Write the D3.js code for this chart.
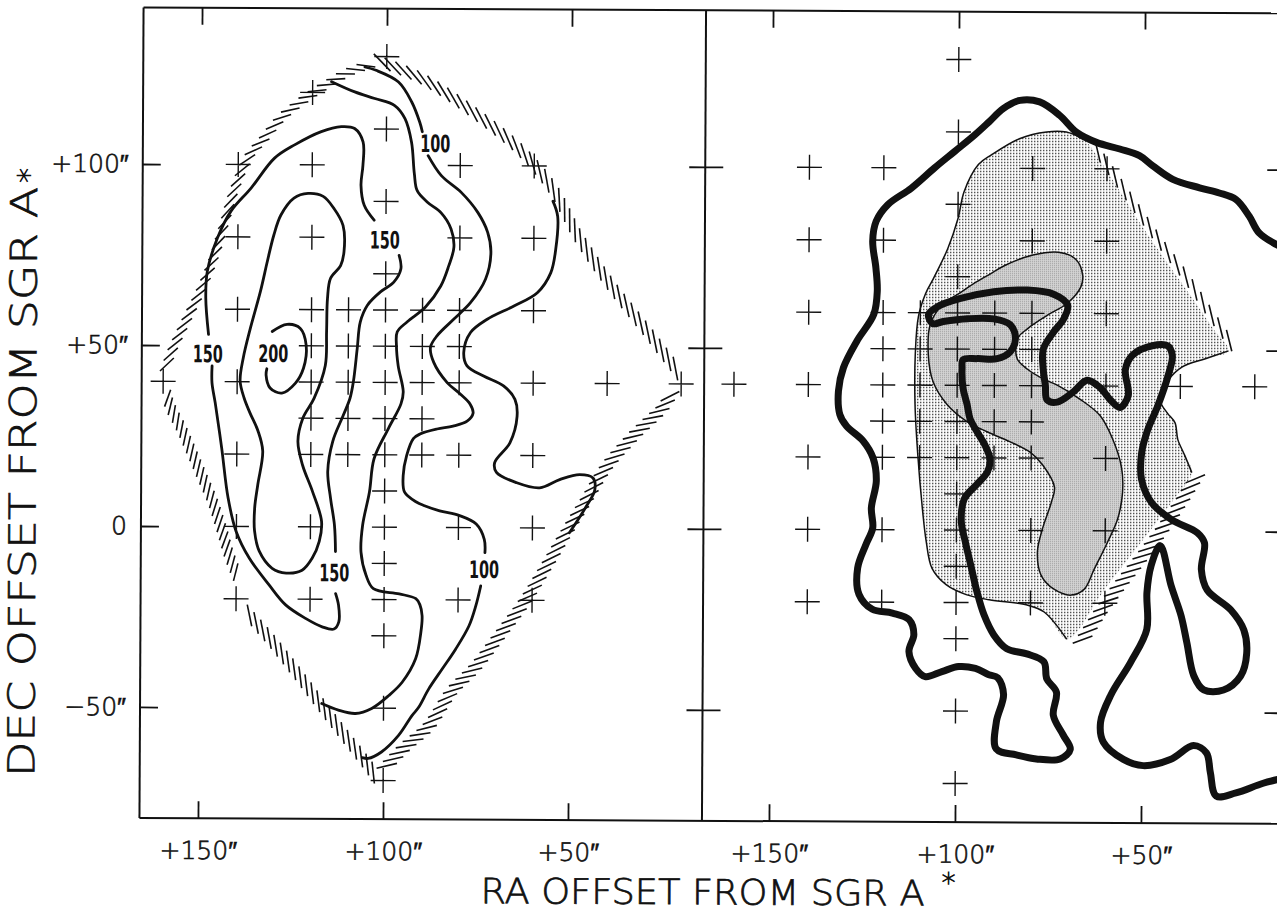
<!DOCTYPE html>
<html>
<head>
<meta charset="utf-8">
<script src="https://cdn.jsdelivr.net/npm/d3@7"></script>
<style>
  html, body { margin: 0; padding: 0; background: #fff; }
  svg { display: block; }
</style>
</head>
<body>
<svg id="chart" width="1277" height="912"></svg>
<script>
// ---------------------------------------------------------------
// Offsets from Sgr A* in arcseconds: [RA offset, Dec offset]
// ---------------------------------------------------------------
const raTicks = [150, 100, 50];
const decTicks = [100, 50, 0, -50];

// observed positions (both maps)
const gridPoints = [
  [100,130],[100,110],[140,100],[120,100],[80,100],[60,100],[100,90],
  [140,80],[120,80],[80,80],[60,80],[100,70],
  [140,60],[120,60],[110,60],[100,60],[90,60],[80,60],[60,60],
  [120,50],[110,50],[100,50],[90,50],[80,50],
  [160,40],[140,40],[120,40],[110,40],[100,40],[90,40],[80,40],[60,40],[40,40],[20,40],
  [120,30],[110,30],[100,30],[90,30],
  [140,20],[120,20],[110,20],[100,20],[90,20],[80,20],[60,20],
  [100,10],
  [140,0],[120,0],[100,0],[80,0],[60,0],
  [100,-10],
  [140,-20],[120,-20],[100,-20],[80,-20],[60,-20],
  [100,-30],[100,-50],[100,-70]
];
const leftOnlyPoints = [[120,120]];
const rightOnlyPoints = [[80,30]];

// --- left map: contour levels ---
const contour200 = [[130.6,53.9],[126.6,55.9],[123.0,54.8],[121.4,50.2],[122.1,43.8],[124.3,39.6],
  [127.9,36.9],[131.1,38.3],[132.2,41.9],[132.0,43.6]];

const contour150Inner = [[139.2,40.2],[138.4,46.5],[136.5,54.8],[133.8,65.1],[132.0,73.3],[130.3,80.5],
  [128.4,86.1],[124.9,90.8],[121.1,92.1],[117.0,91.3],[114.1,88.0],[111.6,83.3],[111.3,76.1],[112.2,72.2],
  [114.9,68.7],[115.7,63.1],[115.9,54.0],[116.2,44.6],[119.2,35.5],[122.2,30.0],[123.5,23.6],[122.2,17.0],
  [119.5,9.8],[117.0,1.5],[117.6,-4.0],[119.5,-8.7],[122.2,-12.0],[126.5,-12.8],[130.3,-11.5],[133.8,-6.8],
  [135.1,-1.2],[135.1,5.1],[134.3,11.5],[133.0,20.9],[134.3,26.4],[136.5,31.4],[138.1,35.5]];

const contour150East = [[96.4,75.1],[95.9,71.4],[97.8,67.7],[101.4,65.0],[104.9,61.3],[106.8,56.7],
  [107.6,49.3],[108.6,40.1],[109.5,35.5],[111.3,30.8],[114.1,23.6],[115.4,15.3],[114.6,7.9],[113.5,0.4],[113.2,-6.8]];
const contour150South = [[113.1,-18.4],[112.3,-21.6],[112.2,-26.2],[113.5,-28.2],[116.7,-27.6],[121.2,-25.3],
  [126.6,-21.6],[131.1,-16.1],[136.5,-8.7],[140.1,-1.3],[142.3,7.9],[144.1,21.7],[145.9,34.1],[146.8,39.6],[146.8,44.3]];
const contour150North = [[147.8,53.0],[148.6,63.1],[148.2,70.5],[145.5,79.7],[141.9,87.1],[136.5,93.5],
  [130.2,101.8],[124.8,105.5],[117.6,109.2],[112.2,110.6],[108.6,110.1],[106.3,106.4],[106.3,100.0],
  [106.8,94.4],[105.9,88.9],[103.2,84.8]];

const contour100North = [[105.9,127.1],[102.9,126.2],[96.8,123.0],[93.2,117.5],[91.0,111.9],[90.3,109.3]];
const contour100Middle = [[88.7,102.7],[85.1,97.2],[79.7,92.6],[75.2,87.1],[72.5,81.6],[71.6,76.0],[73.0,68.7],
  [77.0,62.2],[81.5,57.6],[86.0,53.0],[87.8,49.8],[86.9,45.6],[83.3,40.1],[79.7,36.9],[77.0,34.1],[76.2,31.6],
  [77.8,29.4],[81.6,28.0],[85.9,27.2],[90.5,25.8],[92.3,24.5],[94.1,19.8],[95.0,14.3],[94.6,9.7],[91.4,7.0],
  [89.2,6.0],[85.1,4.6],[79.7,3.3],[75.2,1.0],[73.0,-3.2],[72.8,-6.9]];
const contour100South = [[73.9,-16.1],[75.2,-21.6],[77.0,-27.1],[80.6,-33.6],[84.2,-39.1],[87.8,-44.6],
  [90.5,-49.7],[92.3,-52.0],[95.9,-57.5],[100.5,-62.1],[104.1,-63.9],[105.7,-63.7]];
const contourWest = [[114.9,123.0],[108.6,120.2],[103.2,118.4],[97.8,116.5],[95.0,112.9],[93.2,106.4],
  [92.4,97.7],[91.6,93.0],[88.9,89.9],[85.1,86.9],[82.4,82.5],[81.6,77.5],[83.0,72.2],[85.1,66.7],[89.2,60.9],
  [94.1,56.8],[96.8,54.0],[97.0,50.1],[96.5,44.6],[95.1,37.4],[95.7,34.1],[99.1,27.2],[102.9,18.9],[104.1,9.7],
  [105.9,0.5],[106.3,-6.9],[104.9,-13.3],[102.9,-17.0],[95.9,-18.4],[91.4,-19.7],[90.3,-21.4],[89.7,-24.4],
  [90.0,-28.9],[91.4,-36.3],[95.0,-42.8],[98.6,-46.5],[103.2,-50.1],[107.6,-51.5],[112.2,-50.6],[116.7,-48.8]];
const contourEast = [[54.9,90.3],[53.6,86.1],[54.1,76.9],[55.4,70.5],[59.0,65.0],[65.3,61.3],[72.5,57.6],
  [77.0,53.9],[78.8,48.4],[77.9,44.7],[73.4,41.9],[68.0,39.2],[64.9,35.5],[64.3,30.8],[66.2,23.5],[70.3,18.0],
  [69.8,15.3],[64.4,12.5],[58.1,11.1],[52.7,13.4],[47.3,14.8],[43.7,13.9],[43.2,10.6],[45.5,6.0],[50.0,-1.3]];

const levelLabels = [
  { text: "200", ra: 130.3, dec: 47.7 },
  { text: "150", ra: 148.0, dec: 47.5 },
  { text: "150", ra: 100.3, dec: 79.2 },
  { text: "150", ra: 113.5, dec: -12.8 },
  { text: "100", ra: 86.8, dec: 105.9 },
  { text: "100", ra: 73.0, dec: -11.7 }
];

// edge of mapped area (hatched side faces outwards)
const edgeNW = [[159.5,43.2],[157.6,48.5],[153.5,57.6],[150.0,65.1],[146.5,74.2],[143.8,83.3],[141.1,92.7],
  [137.3,101.8],[133.0,107.3],[128.4,112.9],[123.0,117.5],[115.7,122.5],[110.3,125.6],[104.1,128.0]];
const edgeNE = [[102.7,128.9],[90.5,123.9],[77.0,115.1],[63.5,104.0],[54.9,93.5],[47.8,80.3],[39.2,67.3],
  [28.9,54.0],[20.8,43.2]];
const edgeSE = [[22.4,37.7],[24.9,33.6],[33.0,25.3],[40.0,17.0],[45.4,7.9],[50.8,-1.2],[56.2,-10.6],[61.6,-19.7],
  [68.1,-28.9],[75.1,-38.3],[81.6,-45.4],[87.8,-54.8],[94.6,-61.2],[100.5,-67.5]];
const edgeS = [[101.9,-68.9],[104.9,-64.8],[111.3,-56.5],[117.6,-48.2],[123.8,-39.9],[130.3,-31.6],[136.5,-24.4]];
const edgeSW = [[139.7,-13.7],[141.9,-7.9],[144.1,-0.4],[146.5,7.0],[149.2,13.4],[151.9,19.8],[154.9,26.7],
  [158.1,33.3],[159.2,36.9]];

// --- right map ---
const outerRegion = [[91.1,103.7],[83.6,108.2],[76.3,110.1],[71.0,110.1],[66.4,108.2],[61.6,101.8],[56.7,94.1],
  [50.8,84.7],[44.1,74.7],[37.4,65.1],[31.4,56.2],[27.1,49.9],[33.3,47.7],[39.5,45.4],[43.3,41.6],[45.4,36.1],
  [43.5,32.7],[41.4,30.0],[40.6,25.3],[38.7,20.9],[36.8,16.2],[41.7,8.7],[47.3,1.0],[53.5,-7.3],[58.9,-14.5],
  [62.9,-20.6],[66.9,-27.2],[70.2,-30.0],[76.3,-22.5],[80.9,-20.6],[91.1,-19.2],[97.3,-17.8],[102.7,-15.1],
  [106.5,-10.6],[108.1,-3.2],[109.1,5.1],[110.5,20.9],[111.3,34.7],[111.3,48.5],[110.5,59.0],[108.6,65.3],
  [106.5,69.5],[102.7,77.8],[100.0,86.1],[98.4,93.5],[94.6,101.0]];
const innerRegion = [[107.3,56.8],[103.8,62.6],[100.0,65.1],[95.7,68.1],[91.1,70.9],[87.1,73.3],[79.8,76.1],
  [72.9,76.9],[68.3,75.0],[66.4,70.6],[66.9,67.3],[70.4,62.9],[75.8,59.5],[81.2,55.7],[83.9,52.9],[83.9,47.4],
  [81.2,44.6],[76.9,41.9],[73.1,40.2],[66.9,36.3],[61.6,31.9],[58.1,25.3],[55.7,17.5],[55.4,10.6],[56.7,3.2],
  [59.4,-3.2],[62.9,-10.6],[65.6,-16.2],[69.1,-17.8],[73.7,-16.2],[77.2,-12.3],[78.2,-5.9],[76.9,0.4],[74.5,7.9],
  [73.7,12.0],[76.9,18.1],[80.4,21.7],[85.8,24.5],[91.9,27.2],[97.3,30.0],[102.7,34.7],[106.5,41.0],[107.8,48.5]];
const outerEdgeNE = [[63.7,106.5],[57.8,97.7],[51.6,88.5],[45.2,79.2],[38.4,69.8],[32.0,60.1],[26.1,51.5]];
const outerEdgeSE = [[35.2,15.6],[39.8,7.9],[44.9,0.1],[50.8,-8.1],[56.2,-15.3],[60.5,-21.4],[64.3,-27.5],[66.4,-30.8]];

const boldContour = [[11.8,78.0],[19.0,82.5],[21.7,87.1],[25.3,91.7],[29.8,93.5],[35.1,94.9],[42.3,97.2],
  [47.7,100.9],[51.3,103.7],[56.6,105.5],[62.9,107.3],[68.3,110.1],[72.8,114.7],[78.2,118.4],[83.5,118.8],
  [88.0,116.5],[91.7,112.9],[95.6,109.2],[101.0,104.6],[106.4,100.0],[112.6,94.4],[118.9,89.8],[122.0,85.2],
  [122.9,79.7],[122.0,72.3],[121.6,65.9],[122.5,59.5],[127.0,52.1],[130.6,44.7],[131.9,38.3],[131.5,31.8],
  [129.7,28.6],[125.2,24.5],[122.5,19.8],[121.6,13.4],[122.9,6.0],[122.5,0.5],[124.3,-4.1],[126.5,-10.6],
  [126.1,-17.9],[122.5,-22.0],[117.1,-23.0],[112.6,-24.8],[111.3,-28.9],[112.6,-33.6],[110.8,-38.2],[108.2,-40.5],
  [103.7,-39.1],[99.2,-37.7],[94.7,-38.2],[91.1,-39.9],[88.7,-40.7],[87.1,-45.4],[89.0,-52.9],[89.0,-60.4],
  [83.6,-62.0],[78.2,-63.1],[71.8,-63.1],[69.1,-60.4],[71.0,-56.5],[73.7,-51.0],[72.9,-44.6],[75.5,-41.0],
  [76.3,-36.3],[80.9,-34.1],[86.3,-32.7],[89.8,-28.9],[92.5,-23.3],[94.4,-17.0],[96.0,-10.1],[97.6,-3.2],
  [98.7,2.4],[97.9,8.7],[94.6,12.6],[91.7,16.2],[91.1,19.8],[92.5,23.6],[94.6,27.2],[96.5,30.8],[97.3,34.7],
  [98.4,39.1],[98.7,44.6],[98.4,47.1],[94.6,47.4],[89.3,47.4],[85.8,49.3],[84.4,52.9],[85.8,56.8],[90.3,58.4],
  [97.3,58.4],[103.8,57.6],[106.7,57.0],[107.8,59.5],[105.4,61.7],[99.2,64.0],[90.3,65.9],[81.2,66.4],[74.2,65.3],
  [70.4,62.3],[71.5,58.4],[74.2,54.8],[76.9,50.1],[76.9,44.6],[76.3,40.2],[75.8,36.1],[73.1,35.5],[68.8,38.3],
  [65.1,41.6],[61.6,39.6],[58.9,36.3],[56.2,34.1],[54.0,37.4],[54.8,44.6],[53.0,48.5],[47.6,51.2],[43.5,51.2],
  [42.2,48.5],[43.3,43.0],[46.0,34.7],[48.7,28.0],[50.3,21.7],[50.3,14.2],[47.6,7.9],[42.2,3.2],[35.2,-0.4],
  [33.3,-3.2],[34.1,-10.6],[32.5,-16.2],[26.1,-21.7],[22.6,-27.2],[21.8,-33.6],[23.4,-39.9],[28.0,-43.8],
  [33.3,-43.8],[36.0,-39.9],[37.9,-30.8],[39.5,-23.3],[42.2,-15.1],[45.2,-4.0],[47.6,-9.5],[48.7,-17.0],
  [48.7,-27.2],[53.0,-36.3],[58.3,-45.4],[61.0,-52.9],[60.2,-58.4],[54.8,-63.1],[49.5,-64.8],[42.2,-63.1],
  [36.0,-59.2],[32.5,-61.2],[31.4,-66.7],[29.8,-73.1],[24.5,-72.2],[17.2,-69.5],[11.8,-68.1]];

// ---------------------------------------------------------------
// layout
// ---------------------------------------------------------------
const W = 1277, H = 912;
const frame = { left: 141.5, divider: 704, right: 1283, top: 10, bottom: 820.5 };
const tilt = 0.29;   // the plate sits very slightly turned

const xL = d3.scaleLinear().domain([150, 50]).range([200, 570]);
const xR = d3.scaleLinear().domain([150, 50]).range([771, 1143]);
const y  = d3.scaleLinear().domain([100, -50]).range([166.5, 709.5]);

const ink = "#111";
const fontFamily = "'DejaVu Sans', 'Liberation Sans', sans-serif";

const svg = d3.select("#chart");
svg.append("rect").attr("width", W).attr("height", H).attr("fill", "#fff");
const defs = svg.append("defs");

// dot screens for the shaded areas
const dots = defs.append("pattern").attr("id", "dots")
  .attr("patternUnits", "userSpaceOnUse").attr("width", 3).attr("height", 3)
  .attr("patternTransform", `rotate(${-tilt})`);
dots.append("rect").attr("width", 3).attr("height", 3).attr("fill", "#fff");
dots.append("rect").attr("width", 1.3).attr("height", 1.3).attr("fill", "#1a1a1a");

const screen = defs.append("pattern").attr("id", "screen")
  .attr("patternUnits", "userSpaceOnUse").attr("width", 2).attr("height", 2)
  .attr("patternTransform", `rotate(${-tilt})`);
screen.append("rect").attr("width", 2).attr("height", 2).attr("fill", "#d4d4d4");
screen.append("rect").attr("width", 1).attr("height", 1).attr("fill", "#9a9a9a");

defs.append("clipPath").attr("id", "clipL").append("rect")
  .attr("x", frame.left).attr("y", frame.top)
  .attr("width", frame.divider - frame.left).attr("height", frame.bottom - frame.top);
defs.append("clipPath").attr("id", "clipR").append("rect")
  .attr("x", frame.divider).attr("y", frame.top)
  .attr("width", frame.right - frame.divider + 20).attr("height", frame.bottom - frame.top);

const root = svg.append("g").attr("transform", `rotate(${tilt},640,415)`);

const curveOpen = d3.curveCatmullRom.alpha(0.5);
const curveClosed = d3.curveCatmullRomClosed.alpha(0.5);
const lineFor = (sx, curve) => d3.line().x(d => sx(d[0])).y(d => y(d[1])).curve(curve);

// short strokes laid along an edge, turned by `alpha` from its direction,
// `spacing` is the distance between neighbouring strokes
function hatch(g, pts, sx, alpha, len, spacing) {
  const tmp = g.append("path").attr("d", lineFor(sx, curveOpen)(pts)).attr("fill", "none");
  const node = tmp.node();
  const total = node.getTotalLength();
  const a = alpha * Math.PI / 180;
  const step = spacing / Math.sin(a);
  const strokes = [];
  for (let s = step / 2; s < total; s += step) {
    const p0 = node.getPointAtLength(Math.max(0, s - 1));
    const p1 = node.getPointAtLength(Math.min(total, s + 1));
    const c = node.getPointAtLength(s);
    const phi = Math.atan2(p1.y - p0.y, p1.x - p0.x) + a;
    const dx = Math.cos(phi) * len / 2, dy = Math.sin(phi) * len / 2;
    strokes.push([c.x - dx, c.y - dy, c.x + dx, c.y + dy]);
  }
  tmp.remove();
  g.append("g").selectAll("line").data(strokes).join("line")
    .attr("x1", d => d[0]).attr("y1", d => d[1]).attr("x2", d => d[2]).attr("y2", d => d[3])
    .attr("stroke", ink).attr("stroke-width", 1.6);
}

function crosses(g, pts, sx) {
  const arm = 12.5;
  g.append("g").selectAll("path").data(pts).join("path")
    .attr("d", d => {
      const cx = sx(d[0]), cy = y(d[1]);
      return `M${cx - arm},${cy}H${cx + arm}M${cx},${cy - arm}V${cy + arm}`;
    })
    .attr("stroke", ink).attr("stroke-width", 1.4).attr("fill", "none");
}

// thin lettering, lightly thickened with an outline
function lettering(sel, size) {
  return sel.attr("font-family", fontFamily).attr("font-weight", 200).attr("font-size", size)
    .attr("fill", ink).attr("stroke", ink).attr("stroke-width", 0.7);
}

// ---------------------------------------------------------------
// left map
// ---------------------------------------------------------------
const gL = root.append("g").attr("clip-path", "url(#clipL)");

[[edgeNW, 27, 19], [edgeNE, 26, 24], [edgeSE, 33, 21], [edgeS, 30, 22], [edgeSW, 36, 18]]
  .forEach(([pts, alpha, len]) => hatch(gL, pts, xL, alpha, len, 5));

crosses(gL, gridPoints.concat(leftOnlyPoints), xL);

const openL = lineFor(xL, curveOpen);
[contour200, contour150East, contour150South, contour150North,
 contour100North, contour100Middle, contour100South, contourWest, contourEast]
  .forEach(pts => gL.append("path").attr("d", openL(pts))
    .attr("fill", "none").attr("stroke", ink).attr("stroke-width", 2.8)
    .attr("stroke-linecap", "round").attr("stroke-linejoin", "round"));
gL.append("path").attr("d", lineFor(xL, curveClosed)(contour150Inner))
  .attr("fill", "none").attr("stroke", ink).attr("stroke-width", 2.8);

gL.append("g").selectAll("text").data(levelLabels).join("text")
  .attr("x", d => xL(d.ra)).attr("y", d => y(d.dec))
  .attr("text-anchor", "middle").attr("dominant-baseline", "central")
  .attr("font-family", "'DejaVu Sans Condensed', 'DejaVu Sans', sans-serif")
  .attr("font-weight", "bold").attr("font-size", 24)
  .attr("textLength", 30).attr("lengthAdjust", "spacingAndGlyphs")
  .attr("fill", ink).text(d => d.text);

// ---------------------------------------------------------------
// right map
// ---------------------------------------------------------------
const gR = root.append("g").attr("clip-path", "url(#clipR)");
const openR = lineFor(xR, curveOpen);

gR.append("path").attr("d", lineFor(xR, curveClosed)(outerRegion)).attr("fill", "url(#dots)");
gR.append("path").attr("d", lineFor(xR, curveClosed)(innerRegion)).attr("fill", "url(#screen)")
  .attr("stroke", ink).attr("stroke-width", 1.5);
// outlined parts of the dotted area (the rest carries hatching)
[outerRegion.slice(27).concat(outerRegion.slice(0, 5)), outerRegion.slice(11, 21)]
  .forEach(pts => gR.append("path").attr("d", openR(pts))
    .attr("fill", "none").attr("stroke", ink).attr("stroke-width", 1.5));

hatch(gR, outerEdgeNE, xR, 21, 22, 5.5);
hatch(gR, outerEdgeSE, xR, 36, 21, 5.5);

crosses(gR, gridPoints.concat(rightOnlyPoints), xR);

gR.append("path").attr("d", openR(boldContour))
  .attr("fill", "none").attr("stroke", ink).attr("stroke-width", 7)
  .attr("stroke-linejoin", "round").attr("stroke-linecap", "round");

// ---------------------------------------------------------------
// frame, ticks, labels
// ---------------------------------------------------------------
const gF = root.append("g").attr("stroke", ink).attr("stroke-width", 2).attr("fill", "none");
gF.append("line").attr("x1", frame.left).attr("x2", frame.right + 10).attr("y1", frame.top).attr("y2", frame.top);
gF.append("line").attr("x1", frame.left).attr("x2", frame.right + 10).attr("y1", frame.bottom).attr("y2", frame.bottom);
gF.append("line").attr("x1", frame.left).attr("x2", frame.left).attr("y1", frame.top).attr("y2", frame.bottom);
gF.append("line").attr("x1", frame.divider).attr("x2", frame.divider).attr("y1", frame.top).attr("y2", frame.bottom);

function ticks(axis, tx, ty) {
  const g = root.append("g").attr("transform", `translate(${tx},${ty})`).call(axis);
  g.select(".domain").remove();
  g.selectAll("text").remove();
  g.selectAll("line").attr("stroke", ink).attr("stroke-width", 1.8);
}
ticks(d3.axisTop(xL).tickValues(raTicks).tickSize(-17), 0, frame.top);
ticks(d3.axisBottom(xL).tickValues(raTicks).tickSize(-17), 0, frame.bottom);
ticks(d3.axisTop(xR).tickValues(raTicks).tickSize(-17), 0, frame.top);
ticks(d3.axisBottom(xR).tickValues(raTicks).tickSize(-17), 0, frame.bottom);
ticks(d3.axisLeft(y).tickValues(decTicks).tickSize(-18), frame.left, 0);
ticks(d3.axisLeft(y).tickValues(decTicks).tickSize(16), frame.divider, 0);
ticks(d3.axisRight(y).tickValues(decTicks).tickSize(18), frame.divider, 0);
ticks(d3.axisRight(y).tickValues(decTicks).tickSize(-17), frame.right, 0);

const fmtRA = d => "+" + d + "\u2033";
const fmtDec = d => d === 0 ? "0" : (d > 0 ? "+" + d : "\u2212" + Math.abs(d)) + "\u2033";

function labels(axis, tx, ty) {
  const g = root.append("g").attr("transform", `translate(${tx},${ty})`).call(axis);
  g.select(".domain").remove();
  g.selectAll("line").remove();
  g.attr("font-family", fontFamily).attr("font-size", 25).attr("font-weight", 200);
  g.selectAll("text").attr("fill", ink).attr("stroke", ink).attr("stroke-width", 0.6);
}
labels(d3.axisBottom(xL).tickValues(raTicks).tickSize(0).tickPadding(23).tickFormat(fmtRA), 0, frame.bottom);
labels(d3.axisBottom(xR).tickValues(raTicks).tickSize(0).tickPadding(23).tickFormat(fmtRA), 0, frame.bottom);
labels(d3.axisLeft(y).tickValues(decTicks).tickSize(0).tickPadding(14).tickFormat(fmtDec), frame.left, 0);

// axis titles
lettering(root.append("text"), 35).attr("x", 483).attr("y", 904)
  .attr("textLength", 444).attr("lengthAdjust", "spacingAndGlyphs")
  .text("RA OFFSET FROM SGR A");
lettering(root.append("text"), 28).attr("x", 951).attr("y", 891).attr("text-anchor", "middle")
  .text("*");

lettering(root.append("text"), 37).attr("transform", "translate(36,780) rotate(-90)")
  .attr("textLength", 590).attr("lengthAdjust", "spacingAndGlyphs")
  .text("DEC OFFSET FROM SGR A");
lettering(root.append("text"), 30).attr("transform", "translate(38,186) rotate(-90)")
  .text("*");
</script>
</body>
</html>
